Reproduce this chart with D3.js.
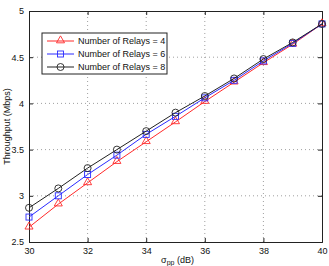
<!DOCTYPE html>
<html>
<head>
<meta charset="utf-8">
<script src="https://cdn.jsdelivr.net/npm/d3@7"></script>
<style>
body { margin: 0; background: #fff; }
text { font-family: "Liberation Sans", Arial, sans-serif; }
</style>
</head>
<body>
<script>
const w = 329
const h = 266
const margin = { left: 29, right: 7, top: 11, bottom: 24 }

const sigma = [30, 31, 32, 33, 34, 35, 36, 37, 38, 39, 40]
const relays4 = [2.66, 2.91, 3.14, 3.37, 3.585, 3.80, 4.02, 4.23, 4.44, 4.64, 4.86]
const relays6 = [2.77, 3.00, 3.23, 3.44, 3.665, 3.86, 4.06, 4.25, 4.46, 4.65, 4.86]
const relays8 = [2.87, 3.08, 3.30, 3.50, 3.70, 3.90, 4.08, 4.27, 4.48, 4.66, 4.86]
const xTicks = [30, 32, 34, 36, 38, 40]
const yTicks = [2.5, 3, 3.5, 4, 4.5, 5]
const labels = ["Number of Relays = 4", "Number of Relays = 6", "Number of Relays = 8"]

const series = [
	{ name: labels[0], values: relays4, color: "#ff2a2a", marker: "triangle" },
	{ name: labels[1], values: relays6, color: "#2a2aff", marker: "square" },
	{ name: labels[2], values: relays8, color: "#222222", marker: "circle" }
]

const svg = d3.select("body").append("svg")
	.attr("width", w)
	.attr("height", h)

const x = d3.scaleLinear().domain([30, 40]).range([margin.left, w - margin.right])
const y = d3.scaleLinear().domain([2.5, 5]).range([h - margin.bottom, margin.top])

// grid
svg.append("g").selectAll("line")
	.data(xTicks.slice(1, -1))
	.enter().append("line")
	.attr("x1", d => x(d)).attr("x2", d => x(d))
	.attr("y1", y(2.5)).attr("y2", y(5))
	.attr("stroke", "#888").attr("stroke-width", 0.8)
	.attr("stroke-dasharray", "1,3")
svg.append("g").selectAll("line")
	.data(yTicks.slice(1, -1))
	.enter().append("line")
	.attr("x1", x(30)).attr("x2", x(40))
	.attr("y1", d => y(d)).attr("y2", d => y(d))
	.attr("stroke", "#888").attr("stroke-width", 0.8)
	.attr("stroke-dasharray", "1,3")

// axes, ticks pointing inward
let xAxis = d3.axisBottom(x).tickValues(xTicks).tickSize(-4).tickPadding(6).tickFormat(d3.format("d"))
let yAxis = d3.axisLeft(y).tickValues(yTicks).tickSize(-4).tickPadding(5).tickFormat(d => d)
let xTop = d3.axisTop(x).tickValues(xTicks).tickSize(-4).tickFormat("")
let yRight = d3.axisRight(y).tickValues(yTicks).tickSize(-4).tickFormat("")

svg.append("g").attr("transform", "translate(0," + y(2.5) + ")").call(xAxis)
svg.append("g").attr("transform", "translate(" + x(30) + ",0)").call(yAxis)
svg.append("g").attr("transform", "translate(0," + y(5) + ")").call(xTop)
svg.append("g").attr("transform", "translate(" + x(40) + ",0)").call(yRight)

svg.selectAll(".domain").attr("stroke", "#222")
svg.selectAll(".tick line").attr("stroke", "#222")
svg.selectAll(".tick text").attr("font-size", 9).attr("fill", "#111")

// lines
let line = d3.line().x((d, i) => x(sigma[i])).y(d => y(d))

let drawMarker = function(g, type, color, cx, cy) {
	if (type == "triangle") {
		g.append("path")
			.attr("d", d3.symbol(d3.symbolTriangle, 28)())
			.attr("transform", "translate(" + cx + "," + (cy - 0.5) + ")")
			.attr("fill", "none").attr("stroke", color).attr("stroke-width", 0.9)
	} else if (type == "square") {
		g.append("rect")
			.attr("x", cx - 3).attr("y", cy - 3).attr("width", 6).attr("height", 6)
			.attr("fill", "none").attr("stroke", color).attr("stroke-width", 0.9)
	} else {
		g.append("circle")
			.attr("cx", cx).attr("cy", cy).attr("r", 3.5)
			.attr("fill", "none").attr("stroke", color).attr("stroke-width", 0.9)
	}
}

series.forEach(s => {
	let g = svg.append("g")
	g.append("path")
		.attr("d", line(s.values))
		.attr("fill", "none")
		.attr("stroke", s.color)
		.attr("stroke-width", 1)
	s.values.forEach((v, i) => drawMarker(g, s.marker, s.color, x(sigma[i]), y(v)))
})

// legend
const lg = svg.append("g")
lg.append("rect")
	.attr("x", 42).attr("y", 33).attr("width", 125).attr("height", 41)
	.attr("fill", "#fff").attr("stroke", "#222").attr("stroke-width", 1)
series.forEach((s, i) => {
	let ly = 41 + i * 13
	lg.append("line")
		.attr("x1", 47).attr("x2", 74).attr("y1", ly).attr("y2", ly)
		.attr("stroke", s.color).attr("stroke-width", 1)
	drawMarker(lg, s.marker, s.color, 60.5, ly)
	lg.append("text")
		.attr("x", 78).attr("y", ly + 3.2)
		.attr("font-size", 9).attr("fill", "#111")
		.text(s.name)
})

// axis labels
let xl = svg.append("text")
	.attr("x", (x(30) + x(40)) / 2 + 2).attr("y", 263)
	.attr("text-anchor", "middle").attr("font-size", 9).attr("fill", "#111")
xl.append("tspan").text("σ")
xl.append("tspan").attr("font-size", 7).attr("dy", 2).text("pp")
xl.append("tspan").attr("dy", -2).text(" (dB)")

svg.append("text")
	.attr("transform", "translate(10," + ((y(2.5) + y(5)) / 2) + ") rotate(-90)")
	.attr("text-anchor", "middle").attr("font-size", 9).attr("fill", "#111")
	.text("Throughput (Mbps)")
</script>
</body>
</html>
